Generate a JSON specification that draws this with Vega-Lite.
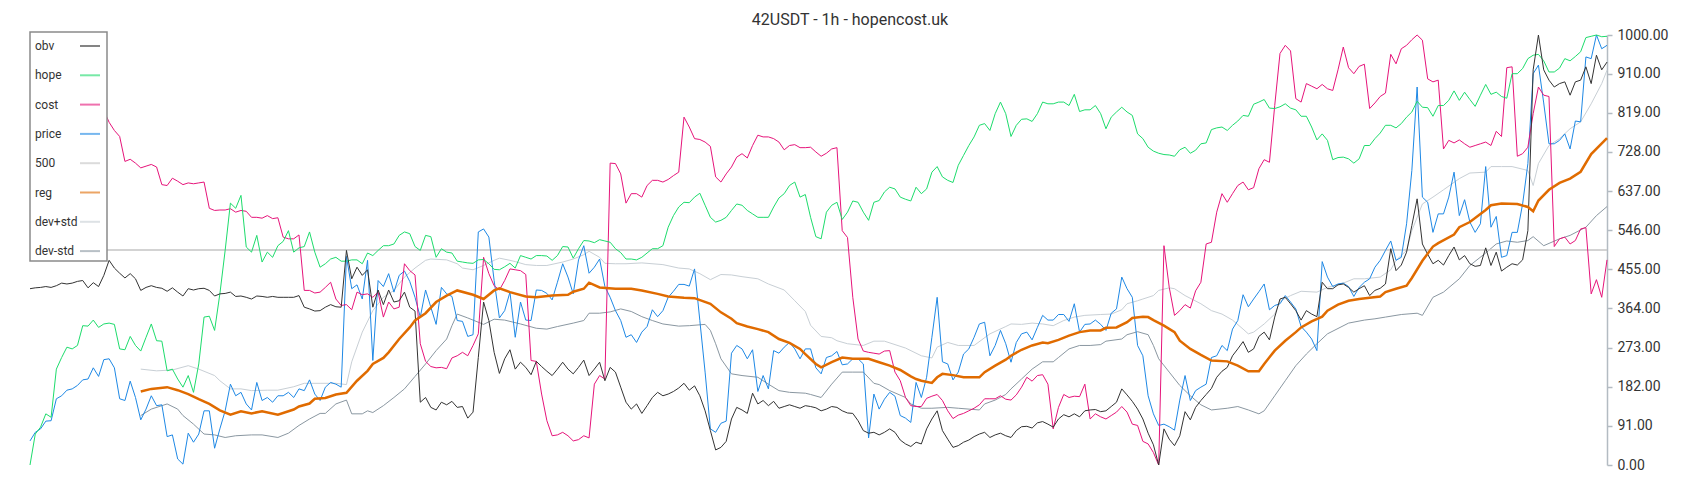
{
"$schema": "https://vega.github.io/schema/vega-lite/v6.json",
"width": 1577, "height": 430,
"autosize": {"type": "none"},
"padding": {"left": 30, "top": 35, "right": 93, "bottom": 35},
"background": "white",
"title": {"text": "42USDT - 1h - hopencost.uk", "anchor": "middle", "dx": 31.5, "dy": 22, "offset": 9, "baseline": "alphabetic", "font": "Roboto", "fontSize": 16, "fontWeight": "normal", "color": "#333333"},
"config": {"view": {"stroke": null}, "legend": {"fillColor": "white", "strokeColor": "#8a8a8a", "strokeWidth": 1.5, "cornerRadius": 0, "padding": 3}},
"datasets": {
"jag": [
{"i":0,"obv":410,"hope":0,"cost":960,"price":56},{"i":1,"obv":412,"hope":72,"cost":955,"price":76},{"i":2,"obv":413,"hope":88,"cost":950,"price":84},{"i":3,"obv":415,"hope":119,"cost":942,"price":102},{"i":4,"obv":413,"hope":111,"cost":935,"price":103},{"i":5,"obv":417,"hope":223,"cost":930,"price":154},{"i":6,"obv":423,"hope":250,"cost":925,"price":161},{"i":7,"obv":421,"hope":274,"cost":915,"price":174},{"i":8,"obv":423,"hope":270,"cost":905,"price":177},{"i":9,"obv":427,"hope":278,"cost":895,"price":185},
{"i":10,"obv":429,"hope":324,"cost":880,"price":198},{"i":11,"obv":412,"hope":323,"cost":868,"price":200},{"i":12,"obv":424,"hope":337,"cost":855,"price":226},{"i":13,"obv":415,"hope":320,"cost":840,"price":206},{"i":14,"obv":441,"hope":328,"cost":825,"price":245},{"i":15,"obv":476,"hope":330,"cost":797,"price":247},{"i":16,"obv":458,"hope":327,"cost":778,"price":226},{"i":17,"obv":446,"hope":270,"cost":764,"price":154},{"i":18,"obv":435,"hope":268,"cost":706,"price":150},{"i":19,"obv":445,"hope":299,"cost":711,"price":195},
{"i":20,"obv":433,"hope":278,"cost":702,"price":157},{"i":21,"obv":406,"hope":265,"cost":691,"price":105},{"i":22,"obv":413,"hope":297,"cost":695,"price":130},{"i":23,"obv":417,"hope":328,"cost":699,"price":161},{"i":24,"obv":413,"hope":289,"cost":693,"price":138},{"i":25,"obv":411,"hope":288,"cost":652,"price":140},{"i":26,"obv":404,"hope":219,"cost":650,"price":66},{"i":27,"obv":412,"hope":223,"cost":667,"price":70},{"i":28,"obv":402,"hope":200,"cost":660,"price":14},{"i":29,"obv":393,"hope":181,"cost":652,"price":2},
{"i":30,"obv":410,"hope":208,"cost":656,"price":74},{"i":31,"obv":407,"hope":169,"cost":654,"price":53},{"i":32,"obv":410,"hope":235,"cost":656,"price":72},{"i":33,"obv":411,"hope":344,"cost":658,"price":126},{"i":34,"obv":406,"hope":346,"cost":597,"price":126},{"i":35,"obv":393,"hope":313,"cost":592,"price":39},{"i":36,"obv":398,"hope":398,"cost":593,"price":84},{"i":37,"obv":399,"hope":499,"cost":593,"price":126},{"i":38,"obv":402,"hope":609,"cost":596,"price":188},{"i":39,"obv":392,"hope":597,"cost":588,"price":161},
{"i":40,"obv":393,"hope":627,"cost":592,"price":169},{"i":41,"obv":390,"hope":507,"cost":590,"price":142},{"i":42,"obv":386,"hope":495,"cost":576,"price":128},{"i":43,"obv":393,"hope":534,"cost":576,"price":192},{"i":44,"obv":392,"hope":472,"cost":574,"price":150},{"i":45,"obv":390,"hope":495,"cost":580,"price":157},{"i":46,"obv":392,"hope":483,"cost":573,"price":146},{"i":47,"obv":390,"hope":510,"cost":575,"price":161},{"i":48,"obv":390,"hope":520,"cost":530,"price":161},{"i":49,"obv":390,"hope":545,"cost":526,"price":169},
{"i":50,"obv":390,"hope":495,"cost":526,"price":157},{"i":51,"obv":394,"hope":505,"cost":535,"price":177},{"i":52,"obv":367,"hope":508,"cost":406,"price":173},{"i":53,"obv":363,"hope":542,"cost":406,"price":198},{"i":54,"obv":358,"hope":495,"cost":400,"price":165},{"i":55,"obv":359,"hope":460,"cost":402,"price":150},{"i":56,"obv":367,"hope":468,"cost":413,"price":181},{"i":57,"obv":373,"hope":479,"cost":425,"price":192},{"i":58,"obv":368,"hope":483,"cost":386,"price":188},{"i":59,"obv":367,"hope":474,"cost":371,"price":181},
{"i":60,"obv":499,"hope":474,"cost":373,"price":485},{"i":61,"obv":433,"hope":477,"cost":361,"price":410},{"i":62,"obv":460,"hope":477,"cost":402,"price":419},{"i":63,"obv":441,"hope":468,"cost":396,"price":386},{"i":64,"obv":454,"hope":493,"cost":398,"price":476},{"i":65,"obv":367,"hope":487,"cost":390,"price":243},{"i":66,"obv":407,"hope":499,"cost":402,"price":429},{"i":67,"obv":373,"hope":510,"cost":344,"price":415},{"i":68,"obv":407,"hope":510,"cost":379,"price":445},{"i":69,"obv":379,"hope":514,"cost":363,"price":402},
{"i":70,"obv":382,"hope":534,"cost":367,"price":441},{"i":71,"obv":402,"hope":542,"cost":468,"price":451},{"i":72,"obv":367,"hope":538,"cost":452,"price":427},{"i":73,"obv":358,"hope":508,"cost":442,"price":390},{"i":74,"obv":146,"hope":499,"cost":282,"price":344},{"i":75,"obv":157,"hope":534,"cost":241,"price":407},{"i":76,"obv":134,"hope":531,"cost":229,"price":367},{"i":77,"obv":128,"hope":483,"cost":226,"price":327},{"i":78,"obv":146,"hope":503,"cost":227,"price":413},{"i":79,"obv":140,"hope":495,"cost":224,"price":398},
{"i":80,"obv":148,"hope":493,"cost":249,"price":392},{"i":81,"obv":134,"hope":474,"cost":254,"price":336},{"i":82,"obv":136,"hope":472,"cost":262,"price":334},{"i":83,"obv":109,"hope":470,"cost":254,"price":299},{"i":84,"obv":123,"hope":469,"cost":278,"price":303},{"i":85,"obv":250,"hope":477,"cost":305,"price":542},{"i":86,"obv":379,"hope":478,"cost":483,"price":549},{"i":87,"obv":336,"hope":468,"cost":445,"price":530},{"i":88,"obv":262,"hope":455,"cost":417,"price":429},{"i":89,"obv":213,"hope":454,"cost":407,"price":342},
{"i":90,"obv":247,"hope":461,"cost":429,"price":359},{"i":91,"obv":268,"hope":469,"cost":456,"price":402},{"i":92,"obv":223,"hope":458,"cost":454,"price":297},{"i":93,"obv":239,"hope":487,"cost":452,"price":379},{"i":94,"obv":227,"hope":483,"cost":443,"price":337},{"i":95,"obv":210,"hope":479,"cost":243,"price":336},{"i":96,"obv":241,"hope":487,"cost":241,"price":407},{"i":97,"obv":229,"hope":487,"cost":165,"price":406},{"i":98,"obv":218,"hope":486,"cost":103,"price":399},{"i":99,"obv":208,"hope":476,"cost":68,"price":384},
{"i":100,"obv":223,"hope":487,"cost":70,"price":425},{"i":101,"obv":239,"hope":508,"cost":76,"price":468},{"i":102,"obv":223,"hope":507,"cost":68,"price":437},{"i":103,"obv":212,"hope":481,"cost":56,"price":398},{"i":104,"obv":227,"hope":503,"cost":59,"price":477},{"i":105,"obv":244,"hope":522,"cost":68,"price":510},{"i":106,"obv":208,"hope":521,"cost":63,"price":446},{"i":107,"obv":223,"hope":517,"cost":188,"price":460},{"i":108,"obv":239,"hope":524,"cost":208,"price":479},{"i":109,"obv":196,"hope":521,"cost":200,"price":415},
{"i":110,"obv":227,"hope":518,"cost":702,"price":390},{"i":111,"obv":216,"hope":503,"cost":701,"price":359},{"i":112,"obv":181,"hope":494,"cost":677,"price":336},{"i":113,"obv":146,"hope":479,"cost":609,"price":297},{"i":114,"obv":130,"hope":479,"cost":631,"price":303},{"i":115,"obv":142,"hope":477,"cost":631,"price":285},{"i":116,"obv":120,"hope":483,"cost":623,"price":309},{"i":117,"obv":138,"hope":493,"cost":650,"price":322},{"i":118,"obv":157,"hope":503,"cost":662,"price":361},{"i":119,"obv":169,"hope":503,"cost":662,"price":345},
{"i":120,"obv":161,"hope":510,"cost":658,"price":359},{"i":121,"obv":165,"hope":553,"cost":664,"price":390},{"i":122,"obv":171,"hope":580,"cost":673,"price":404},{"i":123,"obv":179,"hope":600,"cost":681,"price":420},{"i":124,"obv":190,"hope":611,"cost":809,"price":420},{"i":125,"obv":174,"hope":610,"cost":786,"price":416},{"i":126,"obv":184,"hope":623,"cost":759,"price":456},{"i":127,"obv":161,"hope":632,"cost":757,"price":336},{"i":128,"obv":126,"hope":604,"cost":751,"price":216},{"i":129,"obv":80,"hope":576,"cost":741,"price":84},
{"i":130,"obv":35,"hope":565,"cost":670,"price":76},{"i":131,"obv":41,"hope":569,"cost":658,"price":97},{"i":132,"obv":55,"hope":576,"cost":677,"price":102},{"i":133,"obv":107,"hope":592,"cost":693,"price":260},{"i":134,"obv":134,"hope":607,"cost":716,"price":278},{"i":135,"obv":128,"hope":604,"cost":724,"price":270},{"i":136,"obv":120,"hope":592,"cost":714,"price":247},{"i":137,"obv":167,"hope":584,"cost":743,"price":268},{"i":138,"obv":142,"hope":576,"cost":767,"price":171},{"i":139,"obv":150,"hope":576,"cost":763,"price":208},
{"i":140,"obv":138,"hope":576,"cost":763,"price":177},{"i":141,"obv":148,"hope":600,"cost":759,"price":266},{"i":142,"obv":132,"hope":621,"cost":751,"price":260},{"i":143,"obv":136,"hope":631,"cost":733,"price":274},{"i":144,"obv":140,"hope":650,"cost":743,"price":285},{"i":145,"obv":136,"hope":658,"cost":745,"price":270},{"i":146,"obv":132,"hope":623,"cost":738,"price":247},{"i":147,"obv":138,"hope":629,"cost":738,"price":270},{"i":148,"obv":136,"hope":576,"cost":739,"price":270},{"i":149,"obv":133,"hope":531,"cost":728,"price":226},
{"i":150,"obv":126,"hope":526,"cost":718,"price":212},{"i":151,"obv":130,"hope":588,"cost":725,"price":250},{"i":152,"obv":136,"hope":604,"cost":735,"price":254},{"i":153,"obv":134,"hope":611,"cost":738,"price":264},{"i":154,"obv":126,"hope":571,"cost":545,"price":233},{"i":155,"obv":121,"hope":588,"cost":529,"price":235},{"i":156,"obv":120,"hope":614,"cost":390,"price":247},{"i":157,"obv":103,"hope":611,"cost":293,"price":247},{"i":158,"obv":80,"hope":588,"cost":265,"price":235},{"i":159,"obv":74,"hope":569,"cost":262,"price":63},
{"i":160,"obv":76,"hope":611,"cost":260,"price":165},{"i":161,"obv":70,"hope":615,"cost":258,"price":130},{"i":162,"obv":76,"hope":635,"cost":265,"price":153},{"i":163,"obv":84,"hope":646,"cost":266,"price":169},{"i":164,"obv":76,"hope":642,"cost":216,"price":160},{"i":165,"obv":58,"hope":623,"cost":196,"price":115},{"i":166,"obv":49,"hope":618,"cost":157,"price":109},{"i":167,"obv":43,"hope":614,"cost":138,"price":99},{"i":168,"obv":53,"hope":646,"cost":136,"price":192},{"i":169,"obv":49,"hope":631,"cost":136,"price":157},
{"i":170,"obv":84,"hope":642,"cost":155,"price":204},{"i":171,"obv":107,"hope":681,"cost":160,"price":297},{"i":172,"obv":126,"hope":694,"cost":164,"price":390},{"i":173,"obv":80,"hope":670,"cost":150,"price":240},{"i":174,"obv":60,"hope":662,"cost":126,"price":235},{"i":175,"obv":41,"hope":657,"cost":108,"price":198},{"i":176,"obv":45,"hope":697,"cost":116,"price":216},{"i":177,"obv":53,"hope":720,"cost":120,"price":258},{"i":178,"obv":58,"hope":743,"cost":126,"price":270},{"i":179,"obv":66,"hope":763,"cost":132,"price":297},
{"i":180,"obv":72,"hope":790,"cost":140,"price":328},{"i":181,"obv":76,"hope":794,"cost":154,"price":332},{"i":182,"obv":64,"hope":778,"cost":154,"price":254},{"i":183,"obv":70,"hope":817,"cost":154,"price":278},{"i":184,"obv":74,"hope":844,"cost":161,"price":313},{"i":185,"obv":68,"hope":817,"cost":153,"price":282},{"i":186,"obv":64,"hope":764,"cost":151,"price":239},{"i":187,"obv":80,"hope":790,"cost":163,"price":285},{"i":188,"obv":89,"hope":804,"cost":181,"price":305},{"i":189,"obv":90,"hope":805,"cost":204,"price":309},
{"i":190,"obv":86,"hope":799,"cost":195,"price":291},{"i":191,"obv":98,"hope":817,"cost":208,"price":320},{"i":192,"obv":101,"hope":844,"cost":210,"price":348},{"i":193,"obv":95,"hope":840,"cost":188,"price":337},{"i":194,"obv":88,"hope":840,"cost":84,"price":337},{"i":195,"obv":107,"hope":844,"cost":134,"price":350},{"i":196,"obv":117,"hope":844,"cost":164,"price":350},{"i":197,"obv":112,"hope":836,"cost":157,"price":334},{"i":198,"obv":119,"hope":862,"cost":160,"price":375},{"i":199,"obv":112,"hope":822,"cost":159,"price":309},
{"i":200,"obv":126,"hope":826,"cost":188,"price":327},{"i":201,"obv":128,"hope":826,"cost":107,"price":328},{"i":202,"obv":129,"hope":836,"cost":119,"price":337},{"i":203,"obv":124,"hope":817,"cost":112,"price":327},{"i":204,"obv":126,"hope":782,"cost":107,"price":313},{"i":205,"obv":136,"hope":809,"cost":115,"price":353},{"i":206,"obv":146,"hope":821,"cost":123,"price":363},{"i":207,"obv":177,"hope":832,"cost":136,"price":437},{"i":208,"obv":163,"hope":821,"cost":123,"price":410},{"i":209,"obv":148,"hope":813,"cost":95,"price":390},
{"i":210,"obv":130,"hope":770,"cost":92,"price":278},{"i":211,"obv":107,"hope":759,"cost":55,"price":254},{"i":212,"obv":74,"hope":739,"cost":49,"price":161},{"i":213,"obv":47,"hope":730,"cost":29,"price":119},{"i":214,"obv":0,"hope":725,"cost":0,"price":92},{"i":215,"obv":84,"hope":722,"cost":510,"price":95},{"i":216,"obv":60,"hope":721,"cost":413,"price":89},{"i":217,"obv":45,"hope":718,"cost":348,"price":81},{"i":218,"obv":68,"hope":733,"cost":359,"price":151},{"i":219,"obv":124,"hope":739,"cost":373,"price":208},
{"i":220,"obv":105,"hope":725,"cost":365,"price":150},{"i":221,"obv":134,"hope":732,"cost":405,"price":173},{"i":222,"obv":150,"hope":747,"cost":425,"price":181},{"i":223,"obv":164,"hope":749,"cost":514,"price":188},{"i":224,"obv":178,"hope":780,"cost":518,"price":250},{"i":225,"obv":204,"hope":784,"cost":588,"price":254},{"i":226,"obv":218,"hope":786,"cost":631,"price":278},{"i":227,"obv":227,"hope":778,"cost":611,"price":266},{"i":228,"obv":254,"hope":790,"cost":631,"price":316},{"i":229,"obv":270,"hope":800,"cost":650,"price":336},
{"i":230,"obv":287,"hope":813,"cost":658,"price":396},{"i":231,"obv":262,"hope":811,"cost":640,"price":368},{"i":232,"obv":270,"hope":839,"cost":645,"price":386},{"i":233,"obv":299,"hope":844,"cost":689,"price":403},{"i":234,"obv":309,"hope":850,"cost":710,"price":421},{"i":235,"obv":291,"hope":830,"cost":704,"price":361},{"i":236,"obv":344,"hope":829,"cost":836,"price":371},{"i":237,"obv":386,"hope":833,"cost":957,"price":375},{"i":238,"obv":390,"hope":840,"cost":976,"price":394},{"i":239,"obv":375,"hope":830,"cost":963,"price":379},
{"i":240,"obv":359,"hope":826,"cost":852,"price":363},{"i":241,"obv":337,"hope":811,"cost":844,"price":322},{"i":242,"obv":359,"hope":811,"cost":887,"price":309},{"i":243,"obv":351,"hope":786,"cost":881,"price":293},{"i":244,"obv":345,"hope":756,"cost":875,"price":266},{"i":245,"obv":425,"hope":770,"cost":885,"price":473},{"i":246,"obv":410,"hope":755,"cost":875,"price":437},{"i":247,"obv":410,"hope":710,"cost":871,"price":415},{"i":248,"obv":419,"hope":715,"cost":919,"price":421},{"i":249,"obv":421,"hope":716,"cost":972,"price":423},
{"i":250,"obv":413,"hope":712,"cost":924,"price":415},{"i":251,"obv":402,"hope":702,"cost":910,"price":392},{"i":252,"obv":410,"hope":712,"cost":927,"price":413},{"i":253,"obv":417,"hope":743,"cost":932,"price":425},{"i":254,"obv":394,"hope":743,"cost":829,"price":433},{"i":255,"obv":406,"hope":759,"cost":842,"price":460},{"i":256,"obv":411,"hope":772,"cost":857,"price":476},{"i":257,"obv":421,"hope":790,"cost":865,"price":499},{"i":258,"obv":503,"hope":790,"cost":955,"price":521},{"i":259,"obv":452,"hope":784,"cost":933,"price":476},
{"i":260,"obv":465,"hope":794,"cost":968,"price":483},{"i":261,"obv":495,"hope":809,"cost":976,"price":561},{"i":262,"obv":557,"hope":821,"cost":989,"price":685},{"i":263,"obv":619,"hope":846,"cost":1000,"price":879},{"i":264,"obv":514,"hope":832,"cost":988,"price":623},{"i":265,"obv":490,"hope":831,"cost":898,"price":611},{"i":266,"obv":468,"hope":811,"cost":891,"price":541},{"i":267,"obv":476,"hope":836,"cost":895,"price":584},{"i":268,"obv":465,"hope":836,"cost":735,"price":584},{"i":269,"obv":487,"hope":848,"cost":755,"price":623},
{"i":270,"obv":507,"hope":870,"cost":749,"price":681},{"i":271,"obv":477,"hope":848,"cost":756,"price":580},{"i":272,"obv":487,"hope":867,"cost":747,"price":617},{"i":273,"obv":468,"hope":850,"cost":739,"price":565},{"i":274,"obv":462,"hope":834,"cost":743,"price":541},{"i":275,"obv":464,"hope":860,"cost":747,"price":561},{"i":276,"obv":505,"hope":885,"cost":751,"price":694},{"i":277,"obv":464,"hope":862,"cost":743,"price":553},{"i":278,"obv":495,"hope":867,"cost":776,"price":578},{"i":279,"obv":451,"hope":857,"cost":764,"price":483},
{"i":280,"obv":460,"hope":853,"cost":924,"price":487},{"i":281,"obv":468,"hope":910,"cost":926,"price":541},{"i":282,"obv":465,"hope":910,"cost":718,"price":541},{"i":283,"obv":477,"hope":922,"cost":724,"price":607},{"i":284,"obv":545,"hope":945,"cost":739,"price":701},{"i":285,"obv":919,"hope":953,"cost":817,"price":910},{"i":286,"obv":1000,"hope":955,"cost":879,"price":930},{"i":287,"obv":919,"hope":940,"cost":860,"price":842},{"i":288,"obv":895,"hope":914,"cost":857,"price":747},{"i":289,"obv":879,"hope":914,"cost":508,"price":747},
{"i":290,"obv":887,"hope":923,"cost":526,"price":755},{"i":291,"obv":891,"hope":945,"cost":530,"price":770},{"i":292,"obv":860,"hope":940,"cost":514,"price":735},{"i":293,"obv":891,"hope":950,"cost":522,"price":800},{"i":294,"obv":895,"hope":961,"cost":549,"price":798},{"i":295,"obv":926,"hope":994,"cost":552,"price":949},{"i":296,"obv":887,"hope":997,"cost":398,"price":945},{"i":297,"obv":953,"hope":1000,"cost":431,"price":1000},{"i":298,"obv":919,"hope":996,"cost":390,"price":968},{"i":299,"obv":937,"hope":997,"cost":477,"price":976}
],
"smooth": [
{"s":"500","i":0,"v":500},{"s":"500","i":299,"v":500},
{"s":"reg","i":21,"v":171},{"s":"reg","i":23,"v":177},{"s":"reg","i":26,"v":181},{"s":"reg","i":28,"v":174},{"s":"reg","i":30,"v":165},{"s":"reg","i":32,"v":153},{"s":"reg","i":34,"v":142},{"s":"reg","i":36,"v":127},{"s":"reg","i":38,"v":117},{"s":"reg","i":40,"v":125},{"s":"reg","i":42,"v":120},{"s":"reg","i":44,"v":125},{"s":"reg","i":47,"v":117},{"s":"reg","i":50,"v":129},{"s":"reg","i":51,"v":136},{"s":"reg","i":53,"v":143},{"s":"reg","i":54,"v":154},{"s":"reg","i":56,"v":156},{"s":"reg","i":58,"v":164},{"s":"reg","i":60,"v":168},{"s":"reg","i":62,"v":196},{"s":"reg","i":64,"v":219},{"s":"reg","i":65,"v":235},{"s":"reg","i":67,"v":249},{"s":"reg","i":68,"v":262},{"s":"reg","i":70,"v":293},{"s":"reg","i":72,"v":320},{"s":"reg","i":73,"v":336},{"s":"reg","i":75,"v":353},{"s":"reg","i":77,"v":379},{"s":"reg","i":79,"v":394},{"s":"reg","i":81,"v":406},{"s":"reg","i":84,"v":396},{"s":"reg","i":86,"v":386},{"s":"reg","i":88,"v":406},{"s":"reg","i":89,"v":411},{"s":"reg","i":91,"v":402},{"s":"reg","i":94,"v":392},{"s":"reg","i":96,"v":390},{"s":"reg","i":99,"v":394},{"s":"reg","i":102,"v":396},{"s":"reg","i":103,"v":403},{"s":"reg","i":105,"v":410},{"s":"reg","i":106,"v":424},{"s":"reg","i":108,"v":413},{"s":"reg","i":111,"v":410},{"s":"reg","i":114,"v":410},{"s":"reg","i":116,"v":406},{"s":"reg","i":119,"v":398},{"s":"reg","i":121,"v":392},{"s":"reg","i":124,"v":389},{"s":"reg","i":126,"v":388},{"s":"reg","i":129,"v":375},{"s":"reg","i":131,"v":355},{"s":"reg","i":133,"v":340},{"s":"reg","i":134,"v":330},{"s":"reg","i":136,"v":322},{"s":"reg","i":138,"v":316},{"s":"reg","i":140,"v":309},{"s":"reg","i":142,"v":293},{"s":"reg","i":144,"v":284},{"s":"reg","i":146,"v":270},{"s":"reg","i":147,"v":258},{"s":"reg","i":149,"v":235},{"s":"reg","i":150,"v":227},{"s":"reg","i":152,"v":239},{"s":"reg","i":154,"v":250},{"s":"reg","i":156,"v":247},{"s":"reg","i":159,"v":247},{"s":"reg","i":161,"v":239},{"s":"reg","i":163,"v":231},{"s":"reg","i":165,"v":221},{"s":"reg","i":167,"v":206},{"s":"reg","i":168,"v":200},{"s":"reg","i":169,"v":196},{"s":"reg","i":171,"v":191},{"s":"reg","i":172,"v":204},{"s":"reg","i":173,"v":212},{"s":"reg","i":175,"v":209},{"s":"reg","i":177,"v":204},{"s":"reg","i":180,"v":204},{"s":"reg","i":181,"v":216},{"s":"reg","i":183,"v":231},{"s":"reg","i":185,"v":245},{"s":"reg","i":186,"v":254},{"s":"reg","i":188,"v":268},{"s":"reg","i":190,"v":278},{"s":"reg","i":192,"v":285},{"s":"reg","i":193,"v":283},{"s":"reg","i":195,"v":291},{"s":"reg","i":197,"v":301},{"s":"reg","i":199,"v":309},{"s":"reg","i":201,"v":313},{"s":"reg","i":203,"v":313},{"s":"reg","i":204,"v":319},{"s":"reg","i":206,"v":320},{"s":"reg","i":208,"v":332},{"s":"reg","i":209,"v":342},{"s":"reg","i":211,"v":345},{"s":"reg","i":212,"v":344},{"s":"reg","i":213,"v":337},{"s":"reg","i":215,"v":324},{"s":"reg","i":217,"v":309},{"s":"reg","i":218,"v":289},{"s":"reg","i":220,"v":270},{"s":"reg","i":222,"v":256},{"s":"reg","i":224,"v":243},{"s":"reg","i":227,"v":241},{"s":"reg","i":229,"v":231},{"s":"reg","i":231,"v":218},{"s":"reg","i":233,"v":218},{"s":"reg","i":234,"v":235},{"s":"reg","i":236,"v":266},{"s":"reg","i":238,"v":289},{"s":"reg","i":240,"v":309},{"s":"reg","i":241,"v":320},{"s":"reg","i":243,"v":334},{"s":"reg","i":245,"v":345},{"s":"reg","i":246,"v":359},{"s":"reg","i":248,"v":373},{"s":"reg","i":250,"v":382},{"s":"reg","i":252,"v":386},{"s":"reg","i":254,"v":389},{"s":"reg","i":256,"v":392},{"s":"reg","i":257,"v":402},{"s":"reg","i":259,"v":410},{"s":"reg","i":261,"v":417},{"s":"reg","i":262,"v":435},{"s":"reg","i":264,"v":475},{"s":"reg","i":266,"v":508},{"s":"reg","i":267,"v":516},{"s":"reg","i":270,"v":536},{"s":"reg","i":271,"v":553},{"s":"reg","i":273,"v":565},{"s":"reg","i":276,"v":593},{"s":"reg","i":277,"v":604},{"s":"reg","i":279,"v":608},{"s":"reg","i":282,"v":607},{"s":"reg","i":284,"v":600},{"s":"reg","i":285,"v":590},{"s":"reg","i":286,"v":615},{"s":"reg","i":288,"v":640},{"s":"reg","i":290,"v":656},{"s":"reg","i":292,"v":666},{"s":"reg","i":294,"v":682},{"s":"reg","i":296,"v":723},{"s":"reg","i":299,"v":760},
{"s":"dev+std","i":21,"v":223},{"s":"dev+std","i":24,"v":219},{"s":"dev+std","i":27,"v":221},{"s":"dev+std","i":30,"v":231},{"s":"dev+std","i":32,"v":223},{"s":"dev+std","i":35,"v":208},{"s":"dev+std","i":36,"v":196},{"s":"dev+std","i":38,"v":177},{"s":"dev+std","i":40,"v":177},{"s":"dev+std","i":42,"v":173},{"s":"dev+std","i":45,"v":174},{"s":"dev+std","i":47,"v":174},{"s":"dev+std","i":50,"v":182},{"s":"dev+std","i":52,"v":190},{"s":"dev+std","i":55,"v":190},{"s":"dev+std","i":58,"v":190},{"s":"dev+std","i":60,"v":187},{"s":"dev+std","i":61,"v":240},{"s":"dev+std","i":63,"v":309},{"s":"dev+std","i":65,"v":359},{"s":"dev+std","i":67,"v":390},{"s":"dev+std","i":69,"v":406},{"s":"dev+std","i":71,"v":437},{"s":"dev+std","i":73,"v":458},{"s":"dev+std","i":75,"v":476},{"s":"dev+std","i":76,"v":479},{"s":"dev+std","i":79,"v":477},{"s":"dev+std","i":81,"v":468},{"s":"dev+std","i":82,"v":458},{"s":"dev+std","i":84,"v":454},{"s":"dev+std","i":86,"v":464},{"s":"dev+std","i":88,"v":476},{"s":"dev+std","i":89,"v":481},{"s":"dev+std","i":91,"v":476},{"s":"dev+std","i":92,"v":473},{"s":"dev+std","i":94,"v":466},{"s":"dev+std","i":96,"v":464},{"s":"dev+std","i":98,"v":464},{"s":"dev+std","i":101,"v":472},{"s":"dev+std","i":103,"v":479},{"s":"dev+std","i":105,"v":489},{"s":"dev+std","i":106,"v":497},{"s":"dev+std","i":108,"v":483},{"s":"dev+std","i":109,"v":469},{"s":"dev+std","i":111,"v":468},{"s":"dev+std","i":113,"v":468},{"s":"dev+std","i":116,"v":470},{"s":"dev+std","i":120,"v":466},{"s":"dev+std","i":123,"v":458},{"s":"dev+std","i":125,"v":456},{"s":"dev+std","i":127,"v":445},{"s":"dev+std","i":129,"v":431},{"s":"dev+std","i":131,"v":443},{"s":"dev+std","i":133,"v":442},{"s":"dev+std","i":135,"v":438},{"s":"dev+std","i":138,"v":433},{"s":"dev+std","i":140,"v":421},{"s":"dev+std","i":143,"v":407},{"s":"dev+std","i":145,"v":382},{"s":"dev+std","i":147,"v":357},{"s":"dev+std","i":148,"v":325},{"s":"dev+std","i":150,"v":299},{"s":"dev+std","i":152,"v":296},{"s":"dev+std","i":153,"v":289},{"s":"dev+std","i":155,"v":282},{"s":"dev+std","i":158,"v":278},{"s":"dev+std","i":160,"v":288},{"s":"dev+std","i":162,"v":288},{"s":"dev+std","i":166,"v":272},{"s":"dev+std","i":169,"v":254},{"s":"dev+std","i":171,"v":249},{"s":"dev+std","i":172,"v":274},{"s":"dev+std","i":174,"v":285},{"s":"dev+std","i":176,"v":278},{"s":"dev+std","i":179,"v":278},{"s":"dev+std","i":182,"v":305},{"s":"dev+std","i":185,"v":322},{"s":"dev+std","i":186,"v":328},{"s":"dev+std","i":188,"v":327},{"s":"dev+std","i":190,"v":330},{"s":"dev+std","i":192,"v":328},{"s":"dev+std","i":194,"v":324},{"s":"dev+std","i":196,"v":336},{"s":"dev+std","i":198,"v":344},{"s":"dev+std","i":200,"v":348},{"s":"dev+std","i":203,"v":350},{"s":"dev+std","i":205,"v":351},{"s":"dev+std","i":207,"v":361},{"s":"dev+std","i":208,"v":375},{"s":"dev+std","i":210,"v":382},{"s":"dev+std","i":211,"v":386},{"s":"dev+std","i":213,"v":394},{"s":"dev+std","i":214,"v":406},{"s":"dev+std","i":216,"v":412},{"s":"dev+std","i":217,"v":410},{"s":"dev+std","i":219,"v":394},{"s":"dev+std","i":222,"v":375},{"s":"dev+std","i":224,"v":359},{"s":"dev+std","i":226,"v":351},{"s":"dev+std","i":228,"v":337},{"s":"dev+std","i":230,"v":316},{"s":"dev+std","i":231,"v":305},{"s":"dev+std","i":232,"v":309},{"s":"dev+std","i":234,"v":328},{"s":"dev+std","i":236,"v":351},{"s":"dev+std","i":237,"v":381},{"s":"dev+std","i":239,"v":394},{"s":"dev+std","i":241,"v":404},{"s":"dev+std","i":244,"v":402},{"s":"dev+std","i":246,"v":413},{"s":"dev+std","i":249,"v":423},{"s":"dev+std","i":251,"v":433},{"s":"dev+std","i":253,"v":433},{"s":"dev+std","i":256,"v":437},{"s":"dev+std","i":258,"v":454},{"s":"dev+std","i":259,"v":476},{"s":"dev+std","i":261,"v":499},{"s":"dev+std","i":262,"v":545},{"s":"dev+std","i":264,"v":607},{"s":"dev+std","i":266,"v":623},{"s":"dev+std","i":268,"v":640},{"s":"dev+std","i":271,"v":666},{"s":"dev+std","i":273,"v":679},{"s":"dev+std","i":276,"v":681},{"s":"dev+std","i":277,"v":694},{"s":"dev+std","i":279,"v":694},{"s":"dev+std","i":281,"v":694},{"s":"dev+std","i":284,"v":685},{"s":"dev+std","i":285,"v":650},{"s":"dev+std","i":286,"v":701},{"s":"dev+std","i":288,"v":743},{"s":"dev+std","i":290,"v":759},{"s":"dev+std","i":292,"v":782},{"s":"dev+std","i":294,"v":798},{"s":"dev+std","i":296,"v":840},{"s":"dev+std","i":298,"v":887},{"s":"dev+std","i":299,"v":918},
{"s":"dev-std","i":21,"v":115},{"s":"dev-std","i":23,"v":130},{"s":"dev-std","i":26,"v":142},{"s":"dev-std","i":28,"v":130},{"s":"dev-std","i":29,"v":115},{"s":"dev-std","i":31,"v":95},{"s":"dev-std","i":33,"v":72},{"s":"dev-std","i":35,"v":70},{"s":"dev-std","i":37,"v":64},{"s":"dev-std","i":39,"v":68},{"s":"dev-std","i":42,"v":70},{"s":"dev-std","i":44,"v":70},{"s":"dev-std","i":47,"v":64},{"s":"dev-std","i":49,"v":74},{"s":"dev-std","i":51,"v":92},{"s":"dev-std","i":53,"v":107},{"s":"dev-std","i":55,"v":120},{"s":"dev-std","i":56,"v":120},{"s":"dev-std","i":58,"v":142},{"s":"dev-std","i":60,"v":151},{"s":"dev-std","i":61,"v":119},{"s":"dev-std","i":63,"v":119},{"s":"dev-std","i":64,"v":126},{"s":"dev-std","i":65,"v":122},{"s":"dev-std","i":67,"v":138},{"s":"dev-std","i":69,"v":157},{"s":"dev-std","i":71,"v":177},{"s":"dev-std","i":73,"v":206},{"s":"dev-std","i":75,"v":235},{"s":"dev-std","i":77,"v":266},{"s":"dev-std","i":79,"v":293},{"s":"dev-std","i":80,"v":324},{"s":"dev-std","i":81,"v":351},{"s":"dev-std","i":83,"v":342},{"s":"dev-std","i":86,"v":327},{"s":"dev-std","i":88,"v":339},{"s":"dev-std","i":90,"v":337},{"s":"dev-std","i":93,"v":328},{"s":"dev-std","i":96,"v":318},{"s":"dev-std","i":98,"v":316},{"s":"dev-std","i":100,"v":322},{"s":"dev-std","i":103,"v":330},{"s":"dev-std","i":105,"v":336},{"s":"dev-std","i":106,"v":353},{"s":"dev-std","i":108,"v":353},{"s":"dev-std","i":110,"v":356},{"s":"dev-std","i":112,"v":363},{"s":"dev-std","i":114,"v":357},{"s":"dev-std","i":116,"v":345},{"s":"dev-std","i":118,"v":336},{"s":"dev-std","i":120,"v":328},{"s":"dev-std","i":123,"v":323},{"s":"dev-std","i":125,"v":324},{"s":"dev-std","i":128,"v":327},{"s":"dev-std","i":129,"v":313},{"s":"dev-std","i":130,"v":282},{"s":"dev-std","i":131,"v":247},{"s":"dev-std","i":133,"v":212},{"s":"dev-std","i":135,"v":208},{"s":"dev-std","i":138,"v":204},{"s":"dev-std","i":140,"v":188},{"s":"dev-std","i":142,"v":173},{"s":"dev-std","i":144,"v":169},{"s":"dev-std","i":147,"v":167},{"s":"dev-std","i":148,"v":164},{"s":"dev-std","i":150,"v":157},{"s":"dev-std","i":152,"v":188},{"s":"dev-std","i":154,"v":216},{"s":"dev-std","i":156,"v":216},{"s":"dev-std","i":158,"v":216},{"s":"dev-std","i":160,"v":190},{"s":"dev-std","i":161,"v":187},{"s":"dev-std","i":163,"v":173},{"s":"dev-std","i":166,"v":157},{"s":"dev-std","i":167,"v":142},{"s":"dev-std","i":169,"v":132},{"s":"dev-std","i":171,"v":132},{"s":"dev-std","i":174,"v":134},{"s":"dev-std","i":176,"v":132},{"s":"dev-std","i":180,"v":128},{"s":"dev-std","i":181,"v":142},{"s":"dev-std","i":183,"v":151},{"s":"dev-std","i":185,"v":164},{"s":"dev-std","i":186,"v":177},{"s":"dev-std","i":188,"v":200},{"s":"dev-std","i":190,"v":223},{"s":"dev-std","i":192,"v":240},{"s":"dev-std","i":194,"v":240},{"s":"dev-std","i":195,"v":250},{"s":"dev-std","i":197,"v":270},{"s":"dev-std","i":199,"v":278},{"s":"dev-std","i":201,"v":278},{"s":"dev-std","i":203,"v":280},{"s":"dev-std","i":204,"v":288},{"s":"dev-std","i":207,"v":293},{"s":"dev-std","i":208,"v":303},{"s":"dev-std","i":210,"v":310},{"s":"dev-std","i":212,"v":303},{"s":"dev-std","i":213,"v":278},{"s":"dev-std","i":214,"v":247},{"s":"dev-std","i":216,"v":216},{"s":"dev-std","i":218,"v":185},{"s":"dev-std","i":220,"v":161},{"s":"dev-std","i":222,"v":140},{"s":"dev-std","i":224,"v":128},{"s":"dev-std","i":227,"v":132},{"s":"dev-std","i":229,"v":136},{"s":"dev-std","i":231,"v":128},{"s":"dev-std","i":233,"v":119},{"s":"dev-std","i":234,"v":126},{"s":"dev-std","i":236,"v":161},{"s":"dev-std","i":238,"v":196},{"s":"dev-std","i":240,"v":231},{"s":"dev-std","i":242,"v":258},{"s":"dev-std","i":244,"v":282},{"s":"dev-std","i":246,"v":305},{"s":"dev-std","i":250,"v":330},{"s":"dev-std","i":253,"v":337},{"s":"dev-std","i":255,"v":340},{"s":"dev-std","i":257,"v":344},{"s":"dev-std","i":259,"v":348},{"s":"dev-std","i":260,"v":350},{"s":"dev-std","i":263,"v":353},{"s":"dev-std","i":264,"v":348},{"s":"dev-std","i":266,"v":390},{"s":"dev-std","i":268,"v":402},{"s":"dev-std","i":271,"v":433},{"s":"dev-std","i":273,"v":464},{"s":"dev-std","i":276,"v":493},{"s":"dev-std","i":278,"v":514},{"s":"dev-std","i":280,"v":521},{"s":"dev-std","i":282,"v":518},{"s":"dev-std","i":284,"v":522},{"s":"dev-std","i":285,"v":531},{"s":"dev-std","i":287,"v":510},{"s":"dev-std","i":290,"v":526},{"s":"dev-std","i":292,"v":534},{"s":"dev-std","i":295,"v":553},{"s":"dev-std","i":297,"v":580},{"s":"dev-std","i":299,"v":601}
]
},
"encoding": {
"x": {"field": "i", "type": "quantitative", "scale": {"domain": [0, 299], "nice": false, "zero": false}, "axis": null},
"y": {"field": "v", "type": "quantitative", "scale": {"domain": [0, 1000], "nice": false, "zero": false},
 "axis": {"orient": "right", "values": [0,91,182,273,364,455,546,637,728,819,910,1000], "format": ".2f", "title": null, "grid": false, "labelFont": "Roboto", "labelFontSize": 14, "labelColor": "#333333", "labelPadding": 5, "labelFlush": false, "labelOverlap": false, "tickSize": 5, "tickColor": "#b3bbc2", "tickWidth": 1.5, "domainColor": "#b3bbc2", "domainWidth": 1.5}},
"color": {"field": "s", "type": "nominal",
 "scale": {"domain": ["obv","hope","cost","price","500","reg","dev+std","dev-std"], "range": ["#333333","#1ddc6c","#e6147a","#1e88e5","#c4c4c4","#e06b00","#c8cfd5","#8a97a1"]},
 "legend": {"orient": "none", "legendX": 0, "legendY": -3, "title": null, "direction": "vertical", "symbolType": "stroke", "symbolSize": 400, "symbolStrokeWidth": 2, "symbolOpacity": 0.6, "symbolOffset": 46, "labelOffset": -66, "labelFont": "Roboto", "labelFontSize": 12, "labelColor": "#333333", "rowPadding": 12.3, "padding": 3, "fillColor": "white", "strokeColor": "#8a8a8a", "cornerRadius": 0}}
},
"layer": [
{"data": {"name": "smooth"}, "transform": [{"filter": "datum.s === 'dev-std'"}], "mark": {"type": "line", "strokeWidth": 1}},
{"data": {"name": "smooth"}, "transform": [{"filter": "datum.s === 'dev+std'"}], "mark": {"type": "line", "strokeWidth": 1}},
{"data": {"name": "smooth"}, "transform": [{"filter": "datum.s === '500'"}], "mark": {"type": "line", "strokeWidth": 1.5}},
{"data": {"name": "jag"}, "transform": [{"fold": ["price"], "as": ["s", "v"]}], "mark": {"type": "line", "strokeWidth": 1}},
{"data": {"name": "jag"}, "transform": [{"fold": ["cost"], "as": ["s", "v"]}], "mark": {"type": "line", "strokeWidth": 1}},
{"data": {"name": "jag"}, "transform": [{"fold": ["hope"], "as": ["s", "v"]}], "mark": {"type": "line", "strokeWidth": 1}},
{"data": {"name": "jag"}, "transform": [{"fold": ["obv"], "as": ["s", "v"]}], "mark": {"type": "line", "strokeWidth": 1}},
{"data": {"name": "smooth"}, "transform": [{"filter": "datum.s === 'reg'"}], "mark": {"type": "line", "strokeWidth": 2.5}}
]
}
